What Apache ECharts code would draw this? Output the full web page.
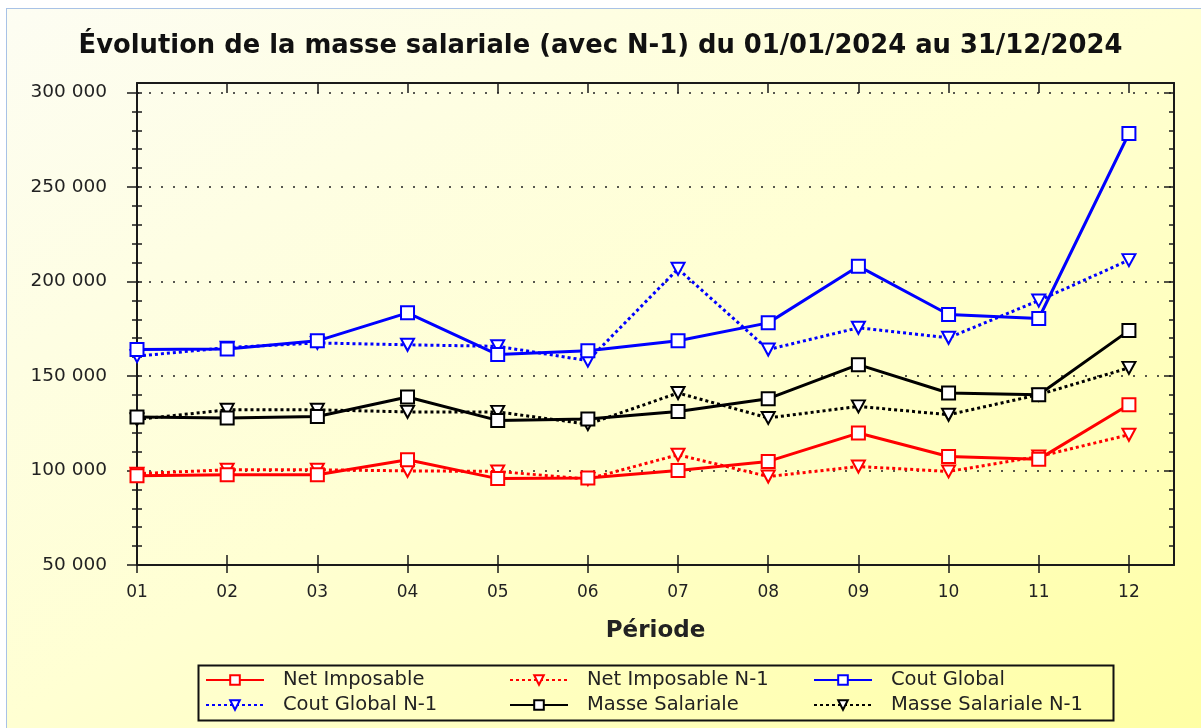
<!DOCTYPE html>
<html>
<head>
<meta charset="utf-8">
<title>Masse salariale</title>
<script src="https://cdn.jsdelivr.net/npm/echarts@6/dist/echarts.min.js"></script>
<style>
  html, body { margin: 0; padding: 0; background: #fff; overflow: hidden; }
  #fond {
    position: absolute; left: 6px; top: 8px; width: 1195px; height: 720px;
    border-left: 1px solid #a8c2e6; border-top: 1px solid #a8c2e6;
    background: linear-gradient(to bottom right, #fdfdf3 0%, #ffffd2 50%, #ffffa4 100%);
  }
  #main { position: absolute; left: 0; top: 0; width: 1201px; height: 728px; }
</style>
</head>
<body>
<div id="fond"></div>
<div id="main"></div>
<script>
  // périodes (mois) et valeurs
  var periodes = ['01', '02', '03', '04', '05', '06', '07', '08', '09', '10', '11', '12'];

  var netImposable = [97200, 97700, 97700, 105700, 95700, 96000, 100000, 104800, 119800, 107400, 106000, 134800];
  var netImposableN1 = [98300, 100400, 100400, 99800, 99500, 95500, 108300, 96800, 102100, 99500, 107400, 118900];
  var coutGlobal = [164000, 164300, 168600, 183400, 161300, 163400, 168600, 178100, 208100, 182500, 180400, 278300];
  var coutGlobalN1 = [160500, 165000, 167500, 166500, 165700, 158100, 206700, 164000, 175500, 170200, 189900, 211300];
  var masseSalariale = [128300, 127800, 128600, 138900, 126500, 127200, 131200, 138000, 156000, 141000, 140100, 174000];
  var masseSalarialeN1 = [127000, 132100, 132100, 131000, 131000, 124500, 141000, 127800, 133900, 129500, 140100, 154300];

  var yTicks = [50000, 100000, 150000, 200000, 250000, 300000];

  var positions = periodes.map(function (p, i) { return i + 1; });
  var yMinor = [];
  for (var t = 50000; t <= 300000; t += 10000) yMinor.push(t);

  var police = 'DejaVu Sans';
  var noir = { color: '#1a1a1a', width: 2 };

  function pairs(values) {
    return values.map(function (v, i) { return [positions[i], v]; });
  }

  function serie(name, values, color, n1) {
    return {
      name: name,
      type: 'line',
      data: pairs(values),
      xAxisIndex: 0,
      yAxisIndex: 0,
      symbol: n1 ? 'triangle' : 'rect',
      symbolRotate: n1 ? 180 : 0,
      symbolSize: n1 ? [13, 12] : 13,
      lineStyle: { color: color, width: 3, type: n1 ? [3, 3] : 'solid' },
      itemStyle: { color: '#fff', borderColor: color, borderWidth: 2 },
      z: n1 ? 2 : 3
    };
  }

  function milliers(v) {
    return String(v).replace(/\B(?=(\d{3})+(?!\d))/g, ' ');
  }

  function axeX(pos, inside, len, extra) {
    var a = {
      type: 'value', position: pos, min: 1, max: 12.5,
      axisLine: { show: false, onZero: false, lineStyle: noir },
      axisTick: { show: true, inside: inside, length: len, customValues: positions, lineStyle: { color: '#1a1a1a', width: 1.5 } },
      axisLabel: { show: false },
      splitLine: { show: false }
    };
    return Object.assign(a, extra || {});
  }

  function axeY(pos, inside, len, vals, extra) {
    var a = {
      type: 'value', position: pos, min: 50000, max: 305000,
      axisLine: { show: false, onZero: false, lineStyle: noir },
      axisTick: { show: true, inside: inside, length: len, customValues: vals, lineStyle: { color: '#1a1a1a', width: 1.5 } },
      axisLabel: { show: false },
      splitLine: { show: false }
    };
    return Object.assign(a, extra || {});
  }

  var myChart = echarts.init(document.getElementById('main'));

  var option = {
    animation: false,
    backgroundColor: 'transparent',
    title: {
      text: 'Évolution de la masse salariale (avec N-1) du 01/01/2024 au 31/12/2024',
      left: 'center',
      top: 28,
      textStyle: { fontFamily: police, fontWeight: 'bold', fontSize: 25.8, color: '#111' }
    },
    grid: { left: 137, right: 27, top: 83, bottom: 163, containLabel: false },
    xAxis: [
      axeX('bottom', true, 10, {
        axisLine: { show: true, onZero: false, lineStyle: noir },
        axisLabel: {
          show: true, customValues: positions, margin: 19,
          fontFamily: police, fontSize: 17, color: '#222',
          formatter: function (v) { return periodes[v - 1]; }
        },
        name: 'Période',
        nameLocation: 'middle',
        nameGap: 55,
        nameTextStyle: { fontFamily: police, fontWeight: 'bold', fontSize: 23, color: '#222' }
      }),
      axeX('bottom', false, 8),
      axeX('top', true, 10, { axisLine: { show: true, onZero: false, lineStyle: noir } })
    ],
    yAxis: [
      axeY('left', false, 10, yTicks, {
        axisLine: { show: true, onZero: false, lineStyle: noir },
        axisLabel: {
          show: true, customValues: yTicks, margin: 30,
          fontFamily: police, fontSize: 18.5, color: '#222',
          formatter: milliers
        },
        splitLine: { show: true, lineStyle: { color: '#222', width: 1.5, type: [2, 10] } }
      }),
      axeY('left', true, 5, yMinor),
      axeY('left', false, 5, yMinor),
      axeY('right', true, 10, yTicks, { axisLine: { show: true, onZero: false, lineStyle: noir } }),
      axeY('right', true, 5, yMinor)
    ],
    legend: [
      { data: ['Net Imposable', 'Cout Global N-1'], left: 200 },
      { data: ['Net Imposable N-1', 'Masse Salariale'], left: 504 },
      { data: ['Cout Global', 'Masse Salariale N-1'], left: 808 }
    ].map(function (l) {
      return Object.assign(l, {
        top: 665, orient: 'vertical', itemWidth: 58, itemHeight: 12, itemGap: 5,
        symbolRotate: 'inherit',
        textStyle: { fontFamily: police, fontSize: 19.5, color: '#222', padding: [0, 0, 0, 14] }
      });
    }),
    graphic: [{
      type: 'rect', left: 196, top: 663,
      shape: { width: 915, height: 55 },
      style: { fill: 'none', stroke: '#111', lineWidth: 2 }
    }],
    series: [
      serie('Cout Global N-1', coutGlobalN1, '#0000ff', true),
      serie('Masse Salariale N-1', masseSalarialeN1, '#000000', true),
      serie('Net Imposable N-1', netImposableN1, '#ff0000', true),
      serie('Cout Global', coutGlobal, '#0000ff', false),
      serie('Masse Salariale', masseSalariale, '#000000', false),
      serie('Net Imposable', netImposable, '#ff0000', false)
    ]
  };

  myChart.setOption(option);
</script>
</body>
</html>
